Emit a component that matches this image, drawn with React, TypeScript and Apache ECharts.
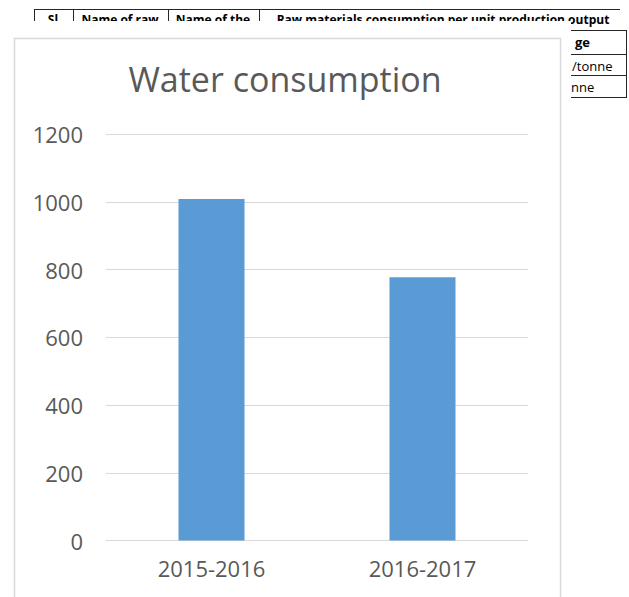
import React, { useEffect, useRef } from "react";
import * as echarts from "echarts";

const categories = ["2015-2016", "2016-2017"];
const waterValues = [1008, 777];
const yMin = 0;
const yMax = 1200;
const yInterval = 200;
const chartTitle = "Water consumption";
const tableHeaders = ["Sl", "Name of raw", "Name of the", "Raw materials consumption per unit production output"];
const tableRightCells = ["ge", "/tonne", "nne"];

const TEXT_GRAY = "#595959";
const GRID_GRAY = "#D9D9D9";
const BAR_BLUE = "#5B9BD5";
const FONT = "'Open Sans', sans-serif";

export default function App() {
  const ref = useRef<HTMLDivElement>(null);

  useEffect(() => {
    if (!ref.current) return;
    const chart = echarts.init(ref.current, undefined, { renderer: "svg" });

    const headerX = [53, 120, 213, 443];
    const rightCellPos = [
      { x: 575, y: 42, bold: true },
      { x: 572, y: 66, bold: false },
      { x: 571, y: 87, bold: false },
    ];
    const lineStyle = { stroke: "#262626", lineWidth: 1 };

    const tableElements: any[] = [
      { type: "line", z: -10, shape: { x1: 34, y1: 9.5, x2: 620, y2: 9.5 }, style: lineStyle },
      ...[34, 73, 168, 259].map((x) => ({
        type: "line",
        z: -10,
        shape: { x1: x + 0.5, y1: 9, x2: x + 0.5, y2: 30 },
        style: lineStyle,
      })),
      ...[30, 54, 75, 97].map((y) => ({
        type: "line",
        z: -10,
        shape: { x1: 560, y1: y + 0.5, x2: 627, y2: y + 0.5 },
        style: lineStyle,
      })),
      { type: "line", z: -10, shape: { x1: 626.5, y1: 30, x2: 626.5, y2: 97.5 }, style: lineStyle },
      ...tableHeaders.map((t, i) => ({
        type: "text",
        z: -10,
        x: headerX[i],
        y: 19,
        style: {
          text: t,
          fill: "#000",
          font: `bold 12px ${FONT}`,
          textAlign: "center",
          textVerticalAlign: "middle",
        },
      })),
      ...tableRightCells.map((t, i) => ({
        type: "text",
        z: -10,
        x: rightCellPos[i].x,
        y: rightCellPos[i].y,
        style: {
          text: t,
          fill: "#000",
          font: `${rightCellPos[i].bold ? "bold " : ""}13px ${FONT}`,
          textAlign: "left",
          textVerticalAlign: "middle",
        },
      })),
      // white mask (the pasted chart object)
      { type: "rect", z: -5, shape: { x: 0, y: 21, width: 571, height: 600 }, style: { fill: "#fff" } },
      {
        type: "rect",
        z: -4,
        shape: { x: 14.5, y: 38.5, width: 546, height: 600 },
        style: { fill: "#fff", stroke: GRID_GRAY, lineWidth: 1.5 },
      },
      {
        type: "text",
        z: 5,
        x: 285,
        y: 79,
        style: {
          text: chartTitle,
          fill: TEXT_GRAY,
          font: `34px ${FONT}`,
          textAlign: "center",
          textVerticalAlign: "middle",
        },
      },
    ];

    chart.setOption({
      animation: false,
      graphic: { elements: tableElements },
      grid: { left: 106, right: 101, top: 134, bottom: 56.5, containLabel: false },
      xAxis: {
        type: "category",
        data: categories,
        axisLine: { show: true, lineStyle: { color: GRID_GRAY, width: 1 } },
        axisTick: { show: false },
        axisLabel: { color: TEXT_GRAY, fontSize: 22, fontFamily: FONT, margin: 16 },
      },
      yAxis: {
        type: "value",
        min: yMin,
        max: yMax,
        interval: yInterval,
        axisLine: { show: false },
        axisTick: { show: false },
        axisLabel: {
          color: TEXT_GRAY,
          fontSize: 22,
          fontFamily: FONT,
          margin: 23,
          formatter: (v: number) => String(v),
        },
        splitLine: { lineStyle: { color: GRID_GRAY, width: 1 } },
      },
      series: [
        {
          type: "bar",
          data: waterValues,
          barWidth: 66,
          itemStyle: { color: BAR_BLUE },
        },
      ],
    });

    return () => chart.dispose();
  }, []);

  return (
    <div
      ref={ref}
      style={{ position: "absolute", left: 0, top: 0, width: 629, height: 597 }}
    />
  );
}
